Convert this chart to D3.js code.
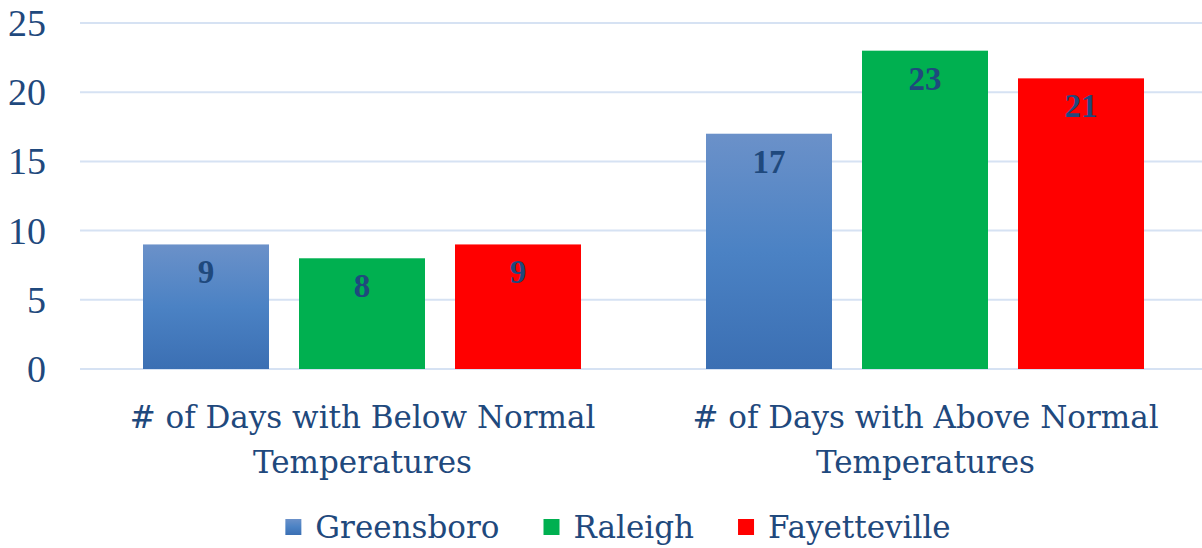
<!DOCTYPE html>
<html>
<head>
<meta charset="utf-8">
<script src="https://cdn.jsdelivr.net/npm/d3@7"></script>
<style>
  body { margin: 0; background: #fff; }
</style>
</head>
<body>
<div id="chart"></div>
<script>
const width = 1202;
const height = 548;

const categories = [
  ["# of Days with Below Normal", "Temperatures"],
  ["# of Days with Above Normal", "Temperatures"],
];
const cities = ["Greensboro", "Raleigh", "Fayetteville"];
const greensboro = [9, 17];
const raleigh = [8, 23];
const fayetteville = [9, 21];
const yTicks = [0, 5, 10, 15, 20, 25];

const seriesValues = [greensboro, raleigh, fayetteville];
const textColor = "#1f497d";
const fills = ["url(#blueGrad)", "#00b050", "#ff0000"];

const svg = d3
  .select("#chart")
  .append("svg")
  .attr("width", width)
  .attr("height", height);

const defs = svg.append("defs");
const grad = defs
  .append("linearGradient")
  .attr("id", "blueGrad")
  .attr("x1", 0)
  .attr("y1", 0)
  .attr("x2", 0)
  .attr("y2", 1);
grad.append("stop").attr("offset", "0%").attr("stop-color", "#6b91c9");
grad.append("stop").attr("offset", "50%").attr("stop-color", "#4b82c4");
grad.append("stop").attr("offset", "100%").attr("stop-color", "#3b6fb3");

const x0 = d3.scaleBand().domain([0, 1]).range([81, 1207]);
const x1 = d3
  .scaleBand()
  .domain(cities)
  .range([62, 500])
  .paddingInner(30 / 156);
const y = d3.scaleLinear().domain([0, 25]).range([369, 23]);

// gridlines
svg
  .selectAll("line.grid")
  .data(yTicks)
  .enter()
  .append("line")
  .attr("class", "grid")
  .attr("x1", 80)
  .attr("x2", width)
  .attr("y1", (d) => y(d))
  .attr("y2", (d) => y(d))
  .attr("stroke", "#d6e2f3")
  .attr("stroke-width", 2);

// y labels
svg
  .selectAll("text.ytick")
  .data(yTicks)
  .enter()
  .append("text")
  .attr("class", "ytick")
  .attr("x", 46)
  .attr("y", (d) => y(d) + 13)
  .attr("text-anchor", "end")
  .attr("font-family", "Liberation Serif")
  .attr("font-size", "38px")
  .attr("fill", textColor)
  .text((d) => d);

// bars
const groups = svg
  .selectAll("g.group")
  .data(categories)
  .enter()
  .append("g")
  .attr("class", "group")
  .attr("transform", (d, i) => "translate(" + x0(i) + ",0)");

groups
  .selectAll("rect")
  .data((d, i) => cities.map((c, j) => ({ city: c, j: j, value: seriesValues[j][i] })))
  .enter()
  .append("rect")
  .attr("x", (d) => x1(d.city))
  .attr("width", x1.bandwidth())
  .attr("y", (d) => y(d.value))
  .attr("height", (d) => y(0) - y(d.value))
  .attr("fill", (d) => fills[d.j]);

groups
  .selectAll("text.val")
  .data((d, i) => cities.map((c, j) => ({ city: c, value: seriesValues[j][i] })))
  .enter()
  .append("text")
  .attr("class", "val")
  .attr("x", (d) => x1(d.city) + x1.bandwidth() / 2)
  .attr("y", (d) => y(d.value) + 39)
  .attr("text-anchor", "middle")
  .attr("font-family", "Liberation Serif")
  .attr("font-weight", "bold")
  .attr("font-size", "33px")
  .attr("fill", textColor)
  .text((d) => d.value);

// category labels
groups
  .append("text")
  .attr("text-anchor", "middle")
  .attr("font-family", "DejaVu Serif")
  .attr("font-size", "31px")
  .attr("fill", textColor)
  .selectAll("tspan")
  .data((d) => d)
  .enter()
  .append("tspan")
  .attr("x", x0.bandwidth() / 2)
  .attr("y", (d, i) => 428 + i * 45)
  .text((d) => d);

// legend
const legend = svg.append("g").attr("id", "legend");
const items = legend
  .selectAll("g")
  .data(cities)
  .enter()
  .append("g");

items
  .append("text")
  .attr("x", 30)
  .attr("y", 538)
  .attr("font-family", "DejaVu Serif")
  .attr("font-size", "31px")
  .attr("fill", textColor)
  .text((d) => d);

items
  .append("rect")
  .attr("x", 0)
  .attr("y", 519)
  .attr("width", 16)
  .attr("height", 16)
  .attr("fill", (d, i) => fills[i]);

let offsets = [];
let cur = 0;
items.each(function () {
  const w = 30 + this.querySelector("text").getComputedTextLength();
  offsets.push(cur);
  cur += w + 44;
});
const total = cur - 44;
const startX = 618 - total / 2;
items.attr("transform", (d, i) => "translate(" + (startX + offsets[i]) + ",0)");
</script>
</body>
</html>
